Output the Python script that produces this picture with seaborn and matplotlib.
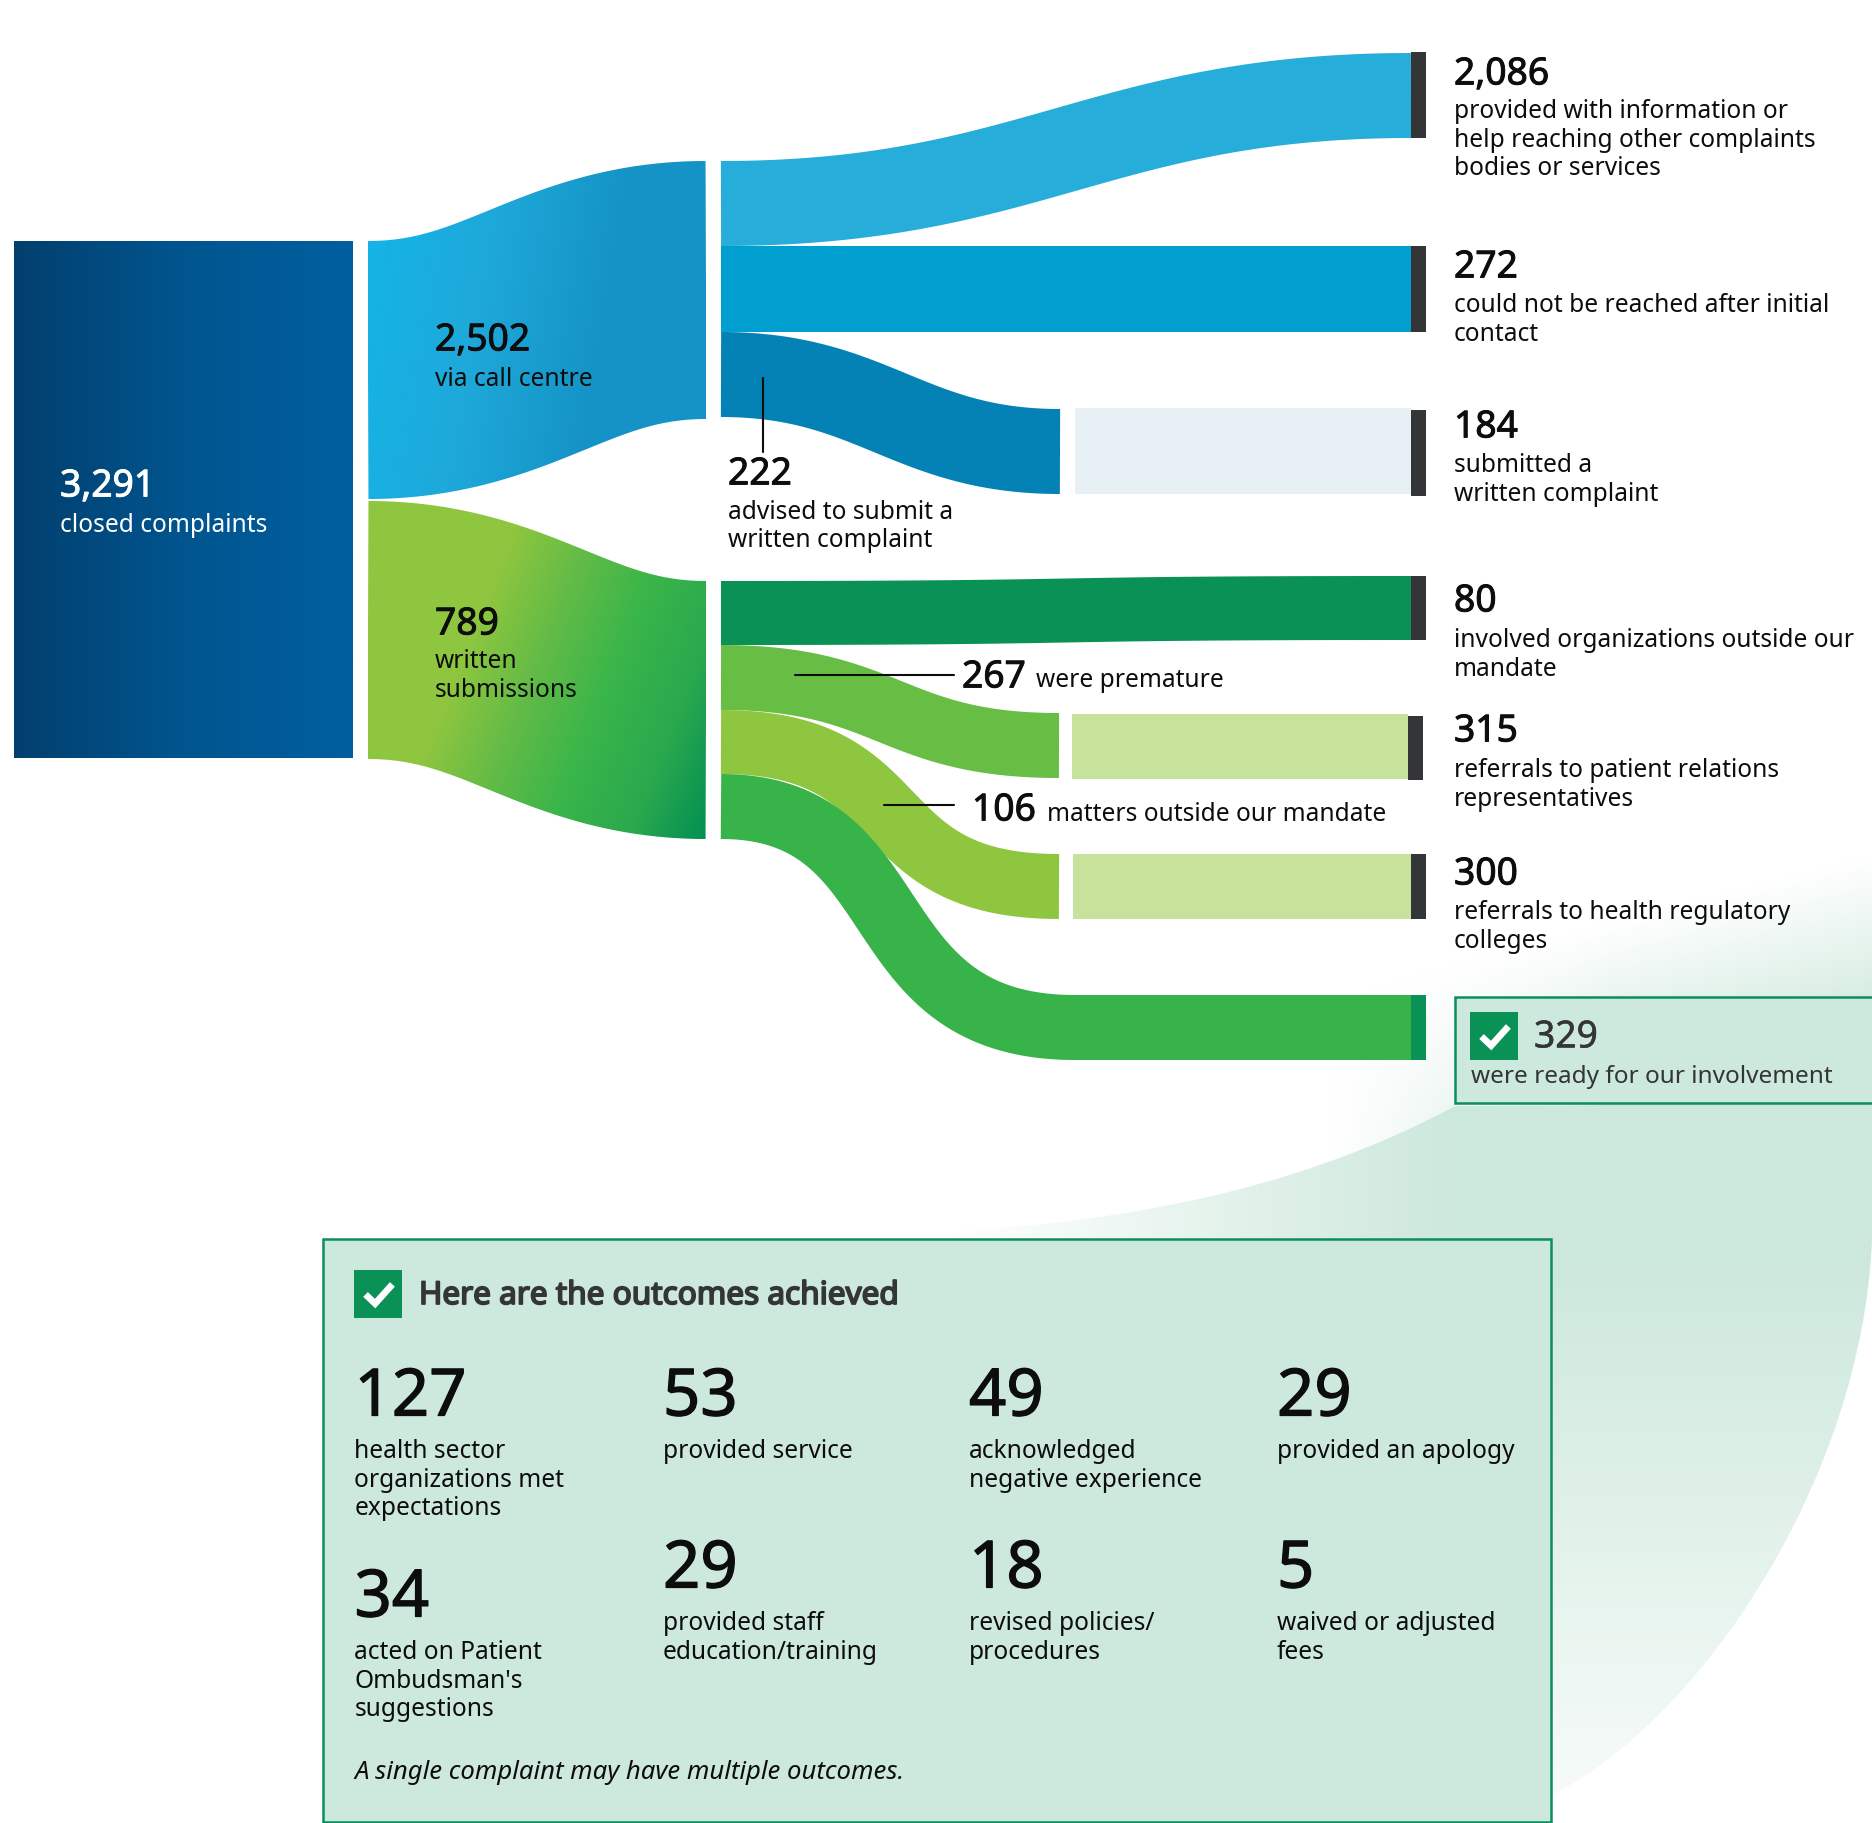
import matplotlib
matplotlib.use("Agg")
import matplotlib.patheffects as pe
import matplotlib.pyplot as plt
import numpy as np
import seaborn as sns
from matplotlib.patches import PathPatch, Rectangle
from matplotlib.path import Path

sns.set_theme(style="white")
plt.rcParams["font.family"] = ["Noto Sans", "DejaVu Sans"]

# values
total_closed = 3291
call_centre = 2502
written_subs = 789
call_outcomes = [2086, 272, 184]
call_labels = [
    ["provided with information or", "help reaching other complaints", "bodies or services"],
    ["could not be reached after initial", "contact"],
    ["submitted a", "written complaint"],
]
advised = 222
advised_label = ["advised to submit a", "written complaint"]
written_outcomes = [80, 315, 300]
written_labels = [
    ["involved organizations outside our", "mandate"],
    ["referrals to patient relations", "representatives"],
    ["referrals to health regulatory", "colleges"],
]
premature = 267
outside_mandate = 106
ready = 329
outcome_values = [127, 53, 49, 29, 34, 29, 18, 5]
outcome_labels = [
    ["health sector", "organizations met", "expectations"],
    ["provided service"],
    ["acknowledged", "negative experience"],
    ["provided an apology"],
    ["acted on Patient", "Ombudsman's", "suggestions"],
    ["provided staff", "education/training"],
    ["revised policies/", "procedures"],
    ["waived or adjusted", "fees"],
]

# layout, in pixels of the 1872x1824 canvas
W, H = 1872, 1824
C_NUM, C_TXT = 26.8, 17.65
DARK = "#333536"
BOX_FILL = "#cde8dc"
BOX_EDGE = "#0b8f5a"
ICON = "#0a9155"
INK = "#0d0d0d"

fig = plt.figure(figsize=(W / 100, H / 100), dpi=100)
ax = fig.add_axes([0, 0, 1, 1])
ax.axis("off")


def ribbon_path(x0, x1, y0_top, y1_top, thick0, thick1=None, k=0.59, k_end=None):
    # a band of constant width around a cubic centre line, like a thick stroke
    thick1 = thick0 if thick1 is None else thick1
    k_end = k if k_end is None else k_end
    t = np.linspace(0, 1, 160)[:, None]
    c0, c1 = y0_top + thick0 / 2, y1_top + thick1 / 2
    span = x1 - x0
    p = [np.array(q, float) for q in [(x0, c0), (x0 + k * span, c0), (x1 - k_end * span, c1), (x1, c1)]]
    pts = (1 - t) ** 3 * p[0] + 3 * (1 - t) ** 2 * t * p[1] + 3 * (1 - t) * t ** 2 * p[2] + t ** 3 * p[3]
    d = np.gradient(pts, axis=0)
    n = np.column_stack([d[:, 1], -d[:, 0]]) / np.hypot(d[:, 0], d[:, 1])[:, None]
    half = (thick0 + (thick1 - thick0) * t) / 2
    return Path(np.vstack([pts + n * half, (pts - n * half)[::-1], (pts + n * half)[:1]]), closed=True)


def ribbon(x0, x1, y0_top, y1_top, thick0, color, thick1=None, zorder=3, k=0.59, k_end=None):
    ax.add_patch(PathPatch(ribbon_path(x0, x1, y0_top, y1_top, thick0, thick1, k, k_end),
                           facecolor=color, edgecolor="none", zorder=zorder))


def gradient_image(extent, field, cmap, clip=None, zorder=2):
    im = ax.imshow(field, extent=extent, cmap=cmap, vmin=0, vmax=1, aspect="auto",
                   origin="upper", zorder=zorder, interpolation="bilinear")
    if clip is not None:
        im.set_clip_path(PathPatch(clip, transform=ax.transData))
    return im


def rect(x0, y0, x1, y1, color, zorder=3, **kw):
    ax.add_patch(Rectangle((x0, y0), x1 - x0, y1 - y0, facecolor=color,
                           edgecolor=kw.pop("edgecolor", "none"), zorder=zorder, **kw))


def number(x, y, val, size=C_NUM, color=INK, stroke=0.7):
    ax.text(x, y - 1 + 0.36 * size * 100 / 72, f"{val:,}", fontsize=size, color=color,
            va="baseline", ha="left", zorder=6,
            path_effects=[pe.withStroke(linewidth=stroke, foreground=color)])


def lines(x, y, rows, step=28.5, size=C_TXT, color=INK, **kw):
    for i, row in enumerate(rows):
        ax.text(x, y + 1.5 + i * step + 0.27 * size * 100 / 72, row, fontsize=size, color=color,
                va="baseline", ha="left", zorder=6, **kw)


def check_icon(x0, y0, side_w, side_h):
    rect(x0, y0, x0 + side_w, y0 + side_h, ICON, zorder=6)
    px = np.array([0.24, 0.44, 0.80]) * side_w + x0
    py = np.array([0.51, 0.70, 0.30]) * side_h + y0
    ax.plot(px, py, color="white", lw=4.8, solid_capstyle="butt", solid_joinstyle="miter", zorder=7)


def wedge_layer(alpha, path):
    rgba = np.zeros(alpha.shape + (4,))
    rgba[..., :3] = matplotlib.colors.to_rgb(BOX_FILL)
    rgba[..., 3] = alpha
    im = ax.imshow(rgba, extent=(800, W, H, 780), aspect="auto", zorder=1, interpolation="bilinear")
    im.set_clip_path(PathPatch(path, transform=ax.transData))


# pale green wedge below the ready box, with a soft glow above its edge
gx, gy = np.meshgrid(np.arange(800, W, 4.0), np.arange(780, H, 4.0))
fade_up = np.clip((0.25 * gx + 0.97 * gy - 1295) / 175, 0, 1)
fade_low = np.clip((1900 - gy) / 640, 0, 1)
edge_verts = [(1455, 1106), (1290, 1195), (1090, 1232), (860, 1234)]
edge_codes = [Path.MOVETO, Path.CURVE4, Path.CURVE4, Path.CURVE4]
wedge_path = Path(
    edge_verts + [(860, 1400), (1552, 1795), (1700, 1720), (1862, 1480), (W, 1240), (W, 1106), (1455, 1106)],
    edge_codes + [Path.LINETO, Path.LINETO, Path.CURVE4, Path.CURVE4, Path.CURVE4, Path.LINETO, Path.CLOSEPOLY],
)
wedge_layer(np.clip((gx - 950) / 500, 0, 1) * fade_low, wedge_path)
glow_path = Path(
    edge_verts + [(860, 780), (W, 780), (W, 1106), (1455, 1106)],
    edge_codes + [Path.LINETO, Path.LINETO, Path.LINETO, Path.CLOSEPOLY],
)
wedge_layer(np.clip((gx - 1330) / 280, 0, 1) * fade_up, glow_path)

# first column: closed complaints
fx = np.linspace(0, 1, 256).reshape(1, -1)
gradient_image((14, 353, 758, 241), fx, sns.blend_palette(["#023f6e", "#00558f", "#005f9f"], as_cmap=True))

# second column: two split ribbons with diagonal gradients
u, v = np.meshgrid(np.linspace(0, 1, 200), np.linspace(0, 1, 200))
blue_path = ribbon_path(368, 706, 241, 161, 258, k=0.42)
gradient_image((368, 706, 510, 150), 0.85 * u + 0.15 * v,
               sns.blend_palette(["#14b5e8", "#1ea9da", "#1593c6", "#1593c6"], as_cmap=True), clip=blue_path)
green_path = ribbon_path(368, 706, 501, 581, 258, k=0.42)
gradient_image((368, 706, 850, 490), 0.7 * u + 0.3 * v,
               sns.blend_palette(["#8fc63f", "#8fc63f", "#8fc63f", "#62bb46", "#39b54a", "#2aa84e", "#008f53"], as_cmap=True),
               clip=green_path)

# call centre flows
ribbon(721, 1411, 161, 53, 85, "#27add9", k=0.45)
rect(721, 246, 1411, 332, "#009fd0")
ribbon(721, 1060, 332, 409, 85, "#0482b5", k=0.45)
rect(1075, 408, 1411, 494, "#e7f0f5")

# written submission flows
ribbon(721, 1411, 581, 576, 64, "#0a9155")
ribbon(721, 1059, 645, 713, 65, "#68bd45", zorder=3, k=0.5)
ribbon(721, 1059, 710, 854, 64, "#8fc63f", thick1=65, zorder=3.1)
ribbon(721, 1075, 774, 995, 65, "#37b34a", zorder=3.2, k=0.55, k_end=0.62)
rect(1070, 995, 1411, 1060, "#37b34a", zorder=3.2)
rect(1072, 714, 1408, 779, "#c6e29b")
rect(1073, 854, 1411, 919, "#c6e29b")

# end caps
for y0, y1 in [(52, 138), (246, 332), (410, 496), (576, 640), (854, 919)]:
    rect(1411, y0, 1426, y1, DARK, zorder=5)
rect(1408, 716, 1423, 780, DARK, zorder=5)
rect(1411, 995, 1426, 1060, "#0a9155", zorder=5)

# leader lines
ax.plot([763, 763], [378, 452], color=INK, lw=1.5, zorder=6)
ax.plot([795, 954], [675, 675], color=INK, lw=1.5, zorder=6)
ax.plot([884, 954], [805, 805], color=INK, lw=1.5, zorder=6)

# texts on the flows
number(60, 484, total_closed, color="white")
lines(60, 523, ["closed complaints"], color="white")
number(435, 338, call_centre)
lines(435, 377, ["via call centre"])
number(435, 622, written_subs)
lines(435, 659, ["written", "submissions"])
number(728, 472, advised)
lines(728, 510, advised_label, step=27.5)
number(962, 675, premature)
lines(1036, 678, ["were premature"])
number(972, 808, outside_mandate)
lines(1047, 812, ["matters outside our mandate"])

# right column
right_num_y = [72, 265, 425, 599, 729, 872]
right_txt_y = [109, 303, 463, 638, 768, 910]
for val, rows, yn, yt in zip(call_outcomes + written_outcomes, call_labels + written_labels, right_num_y, right_txt_y):
    number(1454, yn, val)
    lines(1454, yt, rows)

# ready box
rect(1455, 997, 1874, 1103, BOX_FILL, zorder=4, edgecolor=BOX_EDGE, linewidth=1.8)
check_icon(1470, 1012, 48, 48)
number(1534, 1035, ready, color=DARK, stroke=0.4)
lines(1471, 1074, ["were ready for our involvement"], size=17.5, color=DARK)

# outcomes box
rect(323, 1239, 1551, 1822, BOX_FILL, zorder=4, edgecolor=BOX_EDGE, linewidth=1.8)
check_icon(354, 1270, 48, 48)
ax.text(419, 1304, "Here are the outcomes achieved", fontsize=22.7, color=DARK, zorder=6,
        path_effects=[pe.withStroke(linewidth=1.3, foreground=DARK)])
col_x = [354.5, 663, 969, 1277]
num_y = [1393, 1393, 1393, 1393, 1594, 1565, 1565, 1565]
txt_y = [1449, 1449, 1449, 1449, 1650, 1621, 1621, 1621]
for i, (val, rows) in enumerate(zip(outcome_values, outcome_labels)):
    number(col_x[i % 4], num_y[i], val, size=47, stroke=0.9)
    lines(col_x[i % 4], txt_y[i], rows)
lines(354, 1770, ["A single complaint may have multiple outcomes."], size=18.5, style="italic")

ax.set_xlim(0, W)
ax.set_ylim(H - 1, -1)
fig.savefig("out.png", dpi=100, facecolor="white")
